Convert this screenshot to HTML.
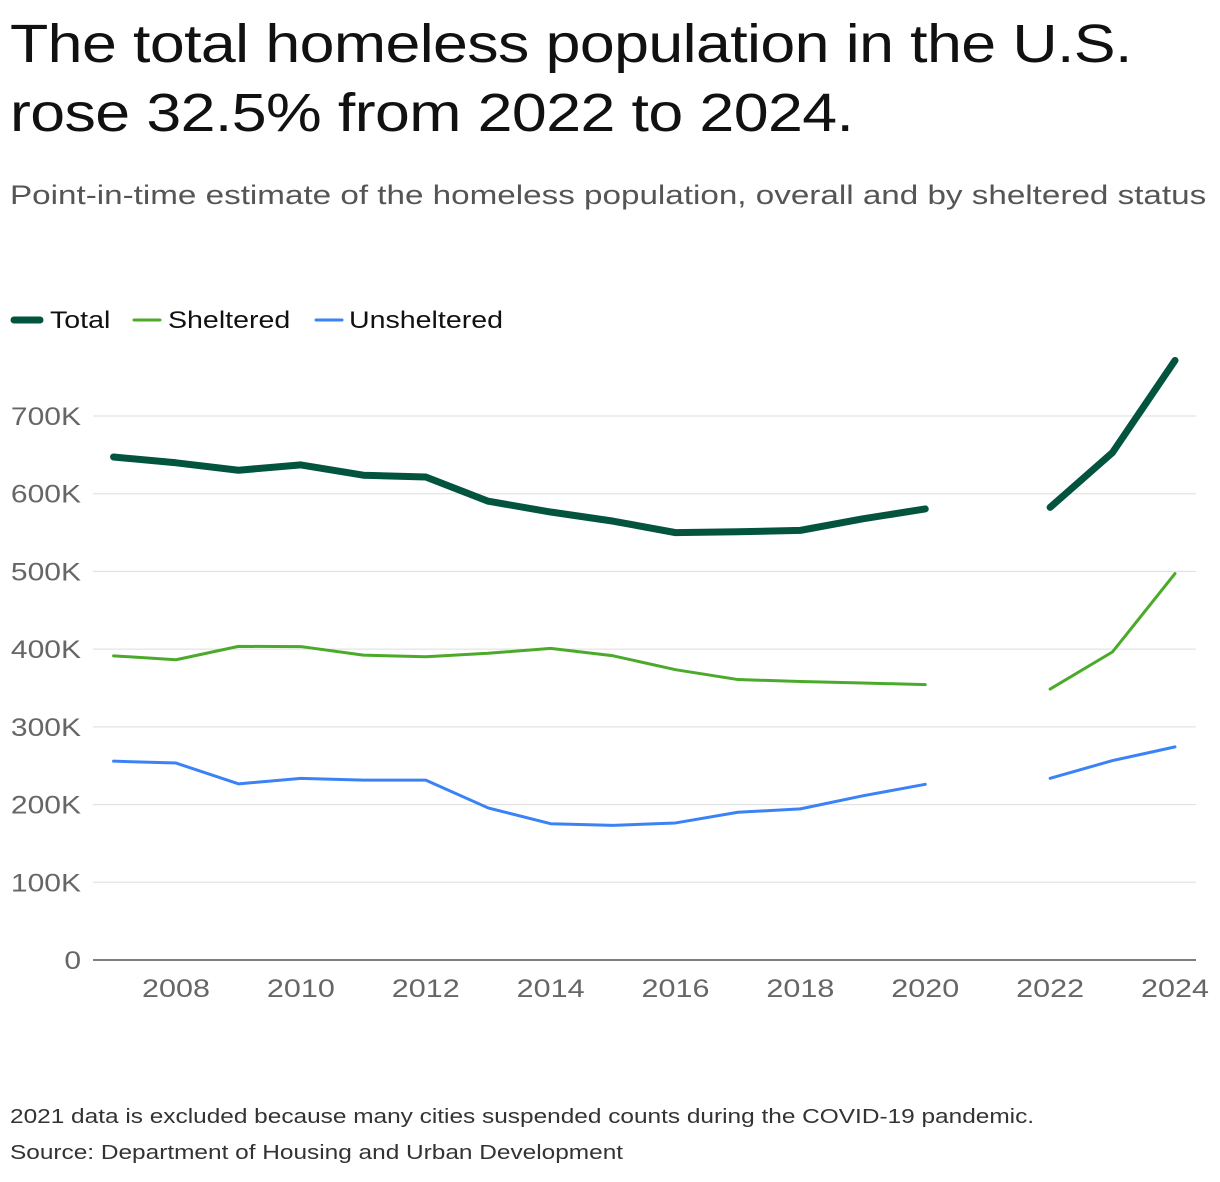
<!DOCTYPE html>
<html><head><meta charset="utf-8"><style>
body{margin:0;background:#fff;font-family:"Liberation Sans",sans-serif;}
#wrap{position:relative;width:1220px;height:1182px;overflow:hidden}
h1{position:absolute;left:10px;top:10px;margin:0;font-size:54px;line-height:69px;font-weight:normal;color:#111;letter-spacing:-0.5px;transform:scaleX(1.16);transform-origin:0 0;white-space:nowrap}
.sub{position:absolute;left:10px;top:180px;font-size:27px;color:#555;transform:scaleX(1.23);transform-origin:0 0;white-space:nowrap}
.note{position:absolute;left:10px;font-size:20px;color:#333;transform:scaleX(1.22);transform-origin:0 0;white-space:nowrap}
</style></head><body><div id="wrap">
<h1>The total homeless population in the U.S.<br>rose 32.5% from 2022 to 2024.</h1>
<div class="sub">Point-in-time estimate of the homeless population, overall and by sheltered status</div>
<svg id="chart" width="1220" height="1182" style="position:absolute;left:0;top:0"></svg>
<div class="note" style="top:1106px">2021 data is excluded because many cities suspended counts during the COVID-19 pandemic.</div>
<div class="note" style="top:1142px">Source: Department of Housing and Urban Development</div>
</div>
<script>
const years=[2007,2008,2009,2010,2011,2012,2013,2014,2015,2016,2017,2018,2019,2020,2022,2023,2024];
const total=[647258,639784,630227,637077,623788,621553,590364,576450,564708,549928,550996,552830,567715,580466,582462,653104,771480];
const sheltered=[391401,386361,403543,403308,392316,390155,394698,401051,391440,373571,360867,358363,356422,354386,348630,396494,497256];
const unsheltered=[255857,253423,226684,233769,231472,231398,195666,175399,173268,176357,190129,194467,211293,226080,233832,256610,274224];
const yTicks=[0,100000,200000,300000,400000,500000,600000,700000];
const yTickLabels=["0","100K","200K","300K","400K","500K","600K","700K"];
const xTicks=[2008,2010,2012,2014,2016,2018,2020,2022,2024];
const NS="http://www.w3.org/2000/svg";
const svg=document.getElementById('chart');
const x=y=>176+(y-2008)*(1175-176)/16;
const yS=v=>960-v*(960-416)/700000;
function mk(t,a){const e=document.createElementNS(NS,t);for(const k in a)e.setAttribute(k,a[k]);svg.appendChild(e);return e;}
function widen(t,f){const w=t.getComputedTextLength();if(w>0){t.setAttribute('textLength',w*f);t.setAttribute('lengthAdjust','spacingAndGlyphs');}}
yTicks.forEach((v,i)=>{
 const l=mk('line',{x1:93,x2:1196,y1:yS(v),y2:yS(v),stroke:v===0?'#555':'#ddd','stroke-width':v===0?1.5:1});
 
 
 const t=mk('text',{x:81,y:yS(v)+9,'text-anchor':'end','font-size':25,fill:'#666','font-family':'Liberation Sans'});
 t.textContent=yTickLabels[i];
 
 
 widen(t,1.2);
});
xTicks.forEach(yr=>{
 const t=mk('text',{x:x(yr),y:997,'text-anchor':'middle','font-size':25,fill:'#666','font-family':'Liberation Sans'});
 t.textContent=yr;
 
 
 widen(t,1.22);
});
function series(vals,color,w,name){
 [[0,14],[14,17]].forEach(([a,b])=>{
  const d=years.slice(a,b).map((yr,i)=>(i?'L':'M')+x(yr)+','+yS(vals[a+i])).join('');
  const p=mk('path',{d:d,fill:'none',stroke:color,'stroke-width':w,'stroke-linejoin':'round','stroke-linecap':'round'});
  
  
 });
}
series(unsheltered,'#3b82f6',3,'unsheltered');
series(sheltered,'#4caa2a',3,'sheltered');
series(total,'#03543f',7,'total');
const legend=[['Total','#03543f',7,14,50],['Sheltered','#4caa2a',3,134,168],['Unsheltered','#3b82f6',3,316,349]];
legend.forEach(([n,c,w,lx,tx])=>{
 const l=mk('line',{x1:lx,x2:lx+26,y1:320,y2:320,stroke:c,'stroke-width':w,'stroke-linecap':'round'});
 
 
 const t=mk('text',{x:tx,y:328,'font-size':24,fill:'#111','font-family':'Liberation Sans'});
 t.textContent=n;
 
 
 widen(t,1.19);
});
</script></body></html>
